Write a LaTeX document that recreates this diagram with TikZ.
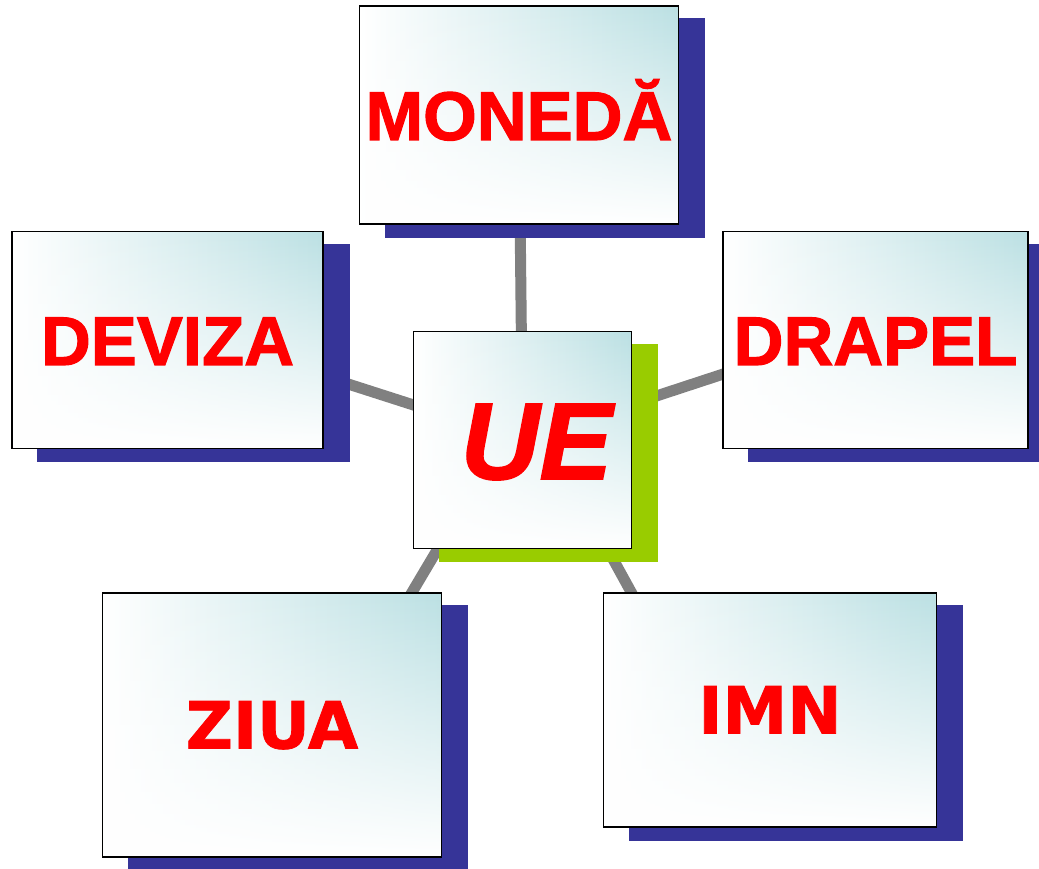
\documentclass[tikz,border=0pt]{standalone}
\usepackage{fontspec}
\setmainfont{Liberation Sans}
\newfontfamily\heavyfont{Liberation Sans Bold}[FakeBold=1.6]
\newfontfamily\heavyitfont{Liberation Sans Bold Italic}[FakeBold=1.6]
\newfontfamily\verdfont{DejaVu Sans Bold}[FakeBold=1.2]
\usetikzlibrary{positioning,fadings,backgrounds}
\definecolor{boxteal}{RGB}{187,224,227}
\definecolor{shadowblue}{RGB}{54,52,152}
\definecolor{uegreen}{RGB}{153,204,0}
\definecolor{linegray}{RGB}{128,128,128}
\tikzfading[name=boxfade, top color=transparent!100, middle color=transparent!65, bottom color=transparent!0]
\tikzset{
    box/.style={draw=black, line width=1.5pt, left color=white, right color=boxteal,
      inner sep=0pt, text=red, text depth=0pt, text height=50pt,
      font=\heavyfont\fontsize{69}{70}\selectfont,
      path picture={\fill[white, path fading=boxfade] (path picture bounding box.south west) rectangle (path picture bounding box.north east);}},
    small text/.style={font=\verdfont\fontsize{65}{66}\selectfont, text height=47pt},
    spoke/.style={draw=linegray, line width=11pt}
  }
\tikzstyle{shadow}=[fill=shadowblue]

\begin{document}
\begin{tikzpicture}[x=1pt,y=1pt,node distance=43pt]
    \useasboundingbox (0,0) rectangle (1039,868);
    \node[box, minimum width=218pt, minimum height=217pt, text height=78pt,
          font=\heavyitfont\fontsize{109}{110}\selectfont] (ue) at (522.5,428) {\hspace*{28pt}UE};
    \node[box, minimum width=319pt, minimum height=218pt, above=106pt of ue, xshift=-3.5pt] (moneda) {MONEDĂ};
    \node[box, minimum width=311pt, minimum height=217pt, left=89pt of ue, yshift=100pt] (deviza) {DEVIZA};
    \node[box, minimum width=305pt, minimum height=217pt, right=90pt of ue, yshift=100pt] (drapel) {DRAPEL};
    \node[box, small text, minimum width=339pt, minimum height=264pt, below=of ue, xshift=-250.5pt] (ziua) {ZIUA};
    \node[box, small text, minimum width=333pt, minimum height=234pt, below=of ue, xshift=247.5pt] (imn) {IMN};

    \begin{scope}[on background layer]
      \draw[spoke] (ue.center) -- (moneda.center);
      \draw[spoke] (ue.center) -- ([yshift=14pt]deviza.center);
      \draw[spoke] (ue.center) -- ([yshift=16pt]drapel.center);
      \draw[spoke] ([xshift=-20pt]ue.center) -- ([xshift=76pt,yshift=25pt]ziua.center);
      \draw[spoke] ([xshift=25pt]ue.center) -- ([xshift=-74pt]imn.center);
      % shadows under the boxes
      \foreach \n in {moneda,deviza,drapel,ziua,imn}
        \path[shadow] ([shift={(26pt,-13pt)}]\n.south west) rectangle ([shift={(26pt,-13pt)}]\n.north east);
      \fill[uegreen] ([shift={(26pt,-13pt)}]ue.south west) rectangle ([shift={(26pt,-13pt)}]ue.north east);
    \end{scope}
\end{tikzpicture}
\end{document}
